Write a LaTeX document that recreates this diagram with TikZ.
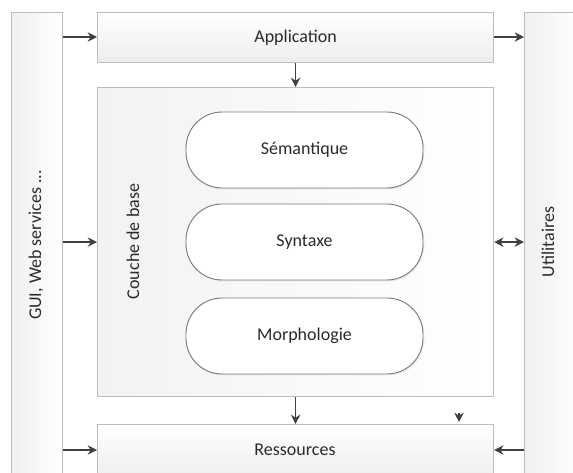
\documentclass[tikz,border=0pt]{standalone}
\usepackage{fontspec}
\setmainfont{Carlito}
\usetikzlibrary{arrows.meta,shadows}

\definecolor{edge}{HTML}{BDBDBD}
\definecolor{pilledge}{HTML}{7A7A7A}
\definecolor{ink}{HTML}{2B2B2B}
\definecolor{arrowgray}{HTML}{404040}

\tikzset{
  panel/.style={draw=edge, line width=0.9pt, top color=white, bottom color=black!7,
                anchor=north west, inner sep=0pt, text=ink},
  sidepanel/.style={draw=edge, line width=0.9pt, left color=black!6, right color=white,
                anchor=north west, inner sep=0pt, text=ink},
  pill/.style={draw=pilledge, line width=0.7pt, fill=white, rounded corners=27pt,
               minimum width=177.75pt, minimum height=57pt, text=ink,
               drop shadow={opacity=0.12, shadow xshift=1pt, shadow yshift=-1pt}},
  flow/.style={draw=arrowgray, line width=0.9pt,
               -{Stealth[length=7pt,width=7pt]}},
  flowboth/.style={draw=arrowgray, line width=0.9pt,
               {Stealth[length=7pt,width=7pt]}-{Stealth[length=7pt,width=7pt]}},
  label/.style={text=ink}
}

\begin{document}
\begin{tikzpicture}[x=0.75pt, y=-0.75pt, font=\fontsize{13.5}{16}\selectfont]
  \useasboundingbox (0,0) rectangle (573,473);
  \clip (0,0) rectangle (573,473);
  \fill[white] (0,0) rectangle (573,473);

  % side columns
  \node[sidepanel, minimum width=38.25pt, minimum height=351pt] (gui) at (11,12) {};
  \node[label, rotate=90] at (36,245) {GUI, Web services ...};
  \node[sidepanel, minimum width=42pt, minimum height=351pt] (util) at (524,12) {};
  \node[label, rotate=90] at (548,242) {Utilitaires};

  % central stack
  \node[panel, minimum width=297pt, minimum height=37.5pt] (app) at (97,12) {Application};
  \node[panel, left color=black!5, right color=white, minimum width=297pt, minimum height=231.75pt] (core) at (97,87) {};
  \node[label, rotate=90] at (133,241.5) {Couche de base};
  \node[panel, minimum width=297pt, minimum height=42pt] (res) at (97,424) {};
  \node[label] at (295,450) {Ressources};

  % layers of the base
  \node[pill] (sem) at (304.5,150) {Sémantique};
  \node[pill] (syn) at (304.5,242) {Syntaxe};
  \node[pill] (mor) at (304.5,336) {Morphologie};

  % connectors
  \coordinate (guiA) at (gui.east |- 0,37);
  \coordinate (appR) at (app.east |- 0,37);
  \coordinate (utilA) at (util.west |- 0,37);
  \coordinate (guiR) at (gui.east |- 0,450);
  \coordinate (resL) at (res.west |- 0,450);
  \coordinate (resR) at (res.east |- 0,450);
  \coordinate (utilR) at (util.west |- 0,450);
  \coordinate (guiC) at (gui.east |- core.west);
  \coordinate (utilC) at (util.west |- core.east);
  \coordinate (tipTop) at (459,412.7);
  \coordinate (tipEnd) at (459,422);

  \draw[flow] (guiA) -- (app.west |- guiA);
  \draw[flow] (appR) -- (utilA);
  \draw[flow] (app.south) -- (core.north);
  \draw[flow] (guiC) -- (core.west);
  \draw[flowboth] (core.east) -- (utilC);
  \draw[flow] (core.south) -- (res.north);
  \draw[flow] (guiR) -- (resL);
  \draw[flow] (utilR) -- (resR);
  \draw[flow] (tipTop) -- (tipEnd);
\end{tikzpicture}
\end{document}
